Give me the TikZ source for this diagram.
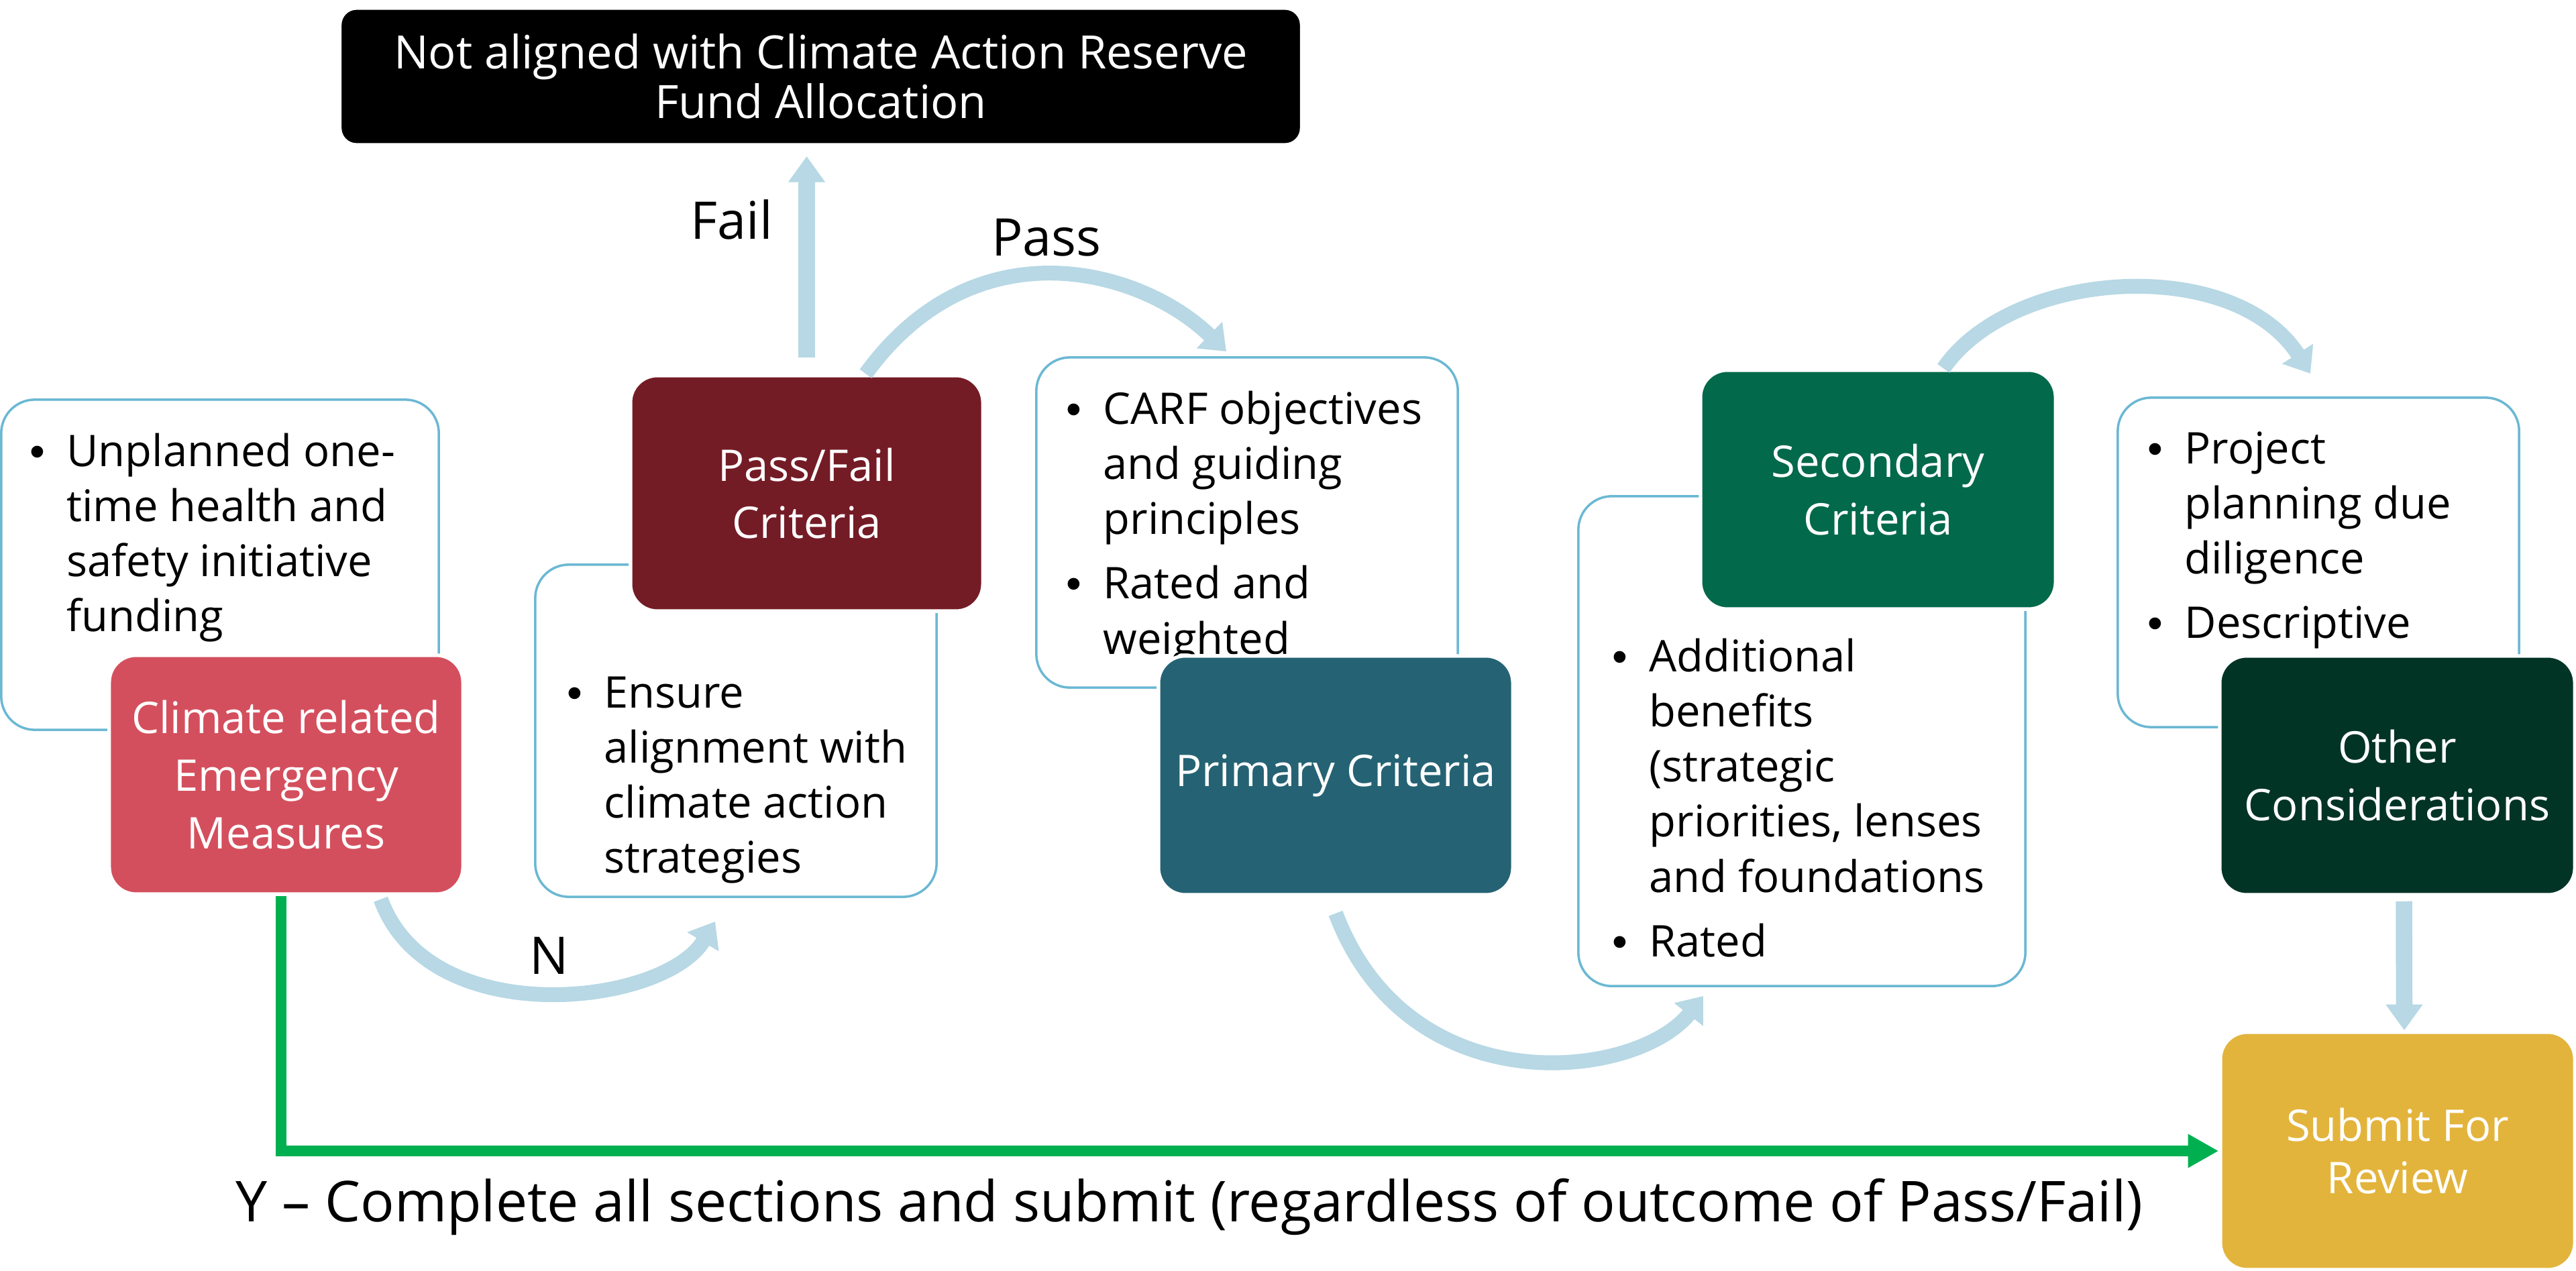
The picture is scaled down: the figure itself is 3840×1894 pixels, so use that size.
\documentclass[tikz,border=0pt]{standalone}
\usepackage{fontspec}
\setmainfont{Open Sans}
\newfontfamily\bulfont{Liberation Sans}
\usetikzlibrary{arrows.meta}
\definecolor{pfred}{HTML}{741C26}
\definecolor{climred}{HTML}{D44F5D}
\definecolor{primteal}{HTML}{256374}
\definecolor{secgreen}{HTML}{02694A}
\definecolor{othgreen}{HTML}{023426}
\definecolor{subgold}{HTML}{E3B43C}
\definecolor{boxblue}{HTML}{6BB8D3}
\definecolor{arrowblue}{HTML}{B7D8E4}
\definecolor{yesgreen}{HTML}{00B050}
\newcommand{\bitem}[1]{\par\noindent\hangindent=15.6pt\hangafter=1\makebox[15.6pt][l]{\bulfont •}#1}
\newcommand{\blist}[1]{\parbox[t]{9cm}{\fontsize{18.5}{23.4}\selectfont\setlength{\parskip}{4pt}#1}}
\begin{document}
\begin{tikzpicture}[x=0.01cm,y=-0.01cm,
  wbox/.style={draw=boxblue, line width=1pt, fill=white, rounded corners=0.5cm, inner sep=0pt},
  cbox/.style={draw=white, line width=1.5pt, rounded corners=0.4cm, text=white, align=center, inner sep=0pt,
     font=\fontsize{18.5}{24.4}\selectfont},
  btext/.style={anchor=base west, inner sep=0pt, align=left},
  lbl/.style={anchor=base, inner sep=0pt, font=\fontsize{22}{26}\selectfont},
  blarrow/.style={draw=arrowblue, line width=7pt, -{Triangle[length=11pt,width=15pt]}},
  arcarrow/.style={draw=arrowblue, line width=6.3pt, -{Triangle[length=10pt,width=15pt]}},
  gline/.style={draw=yesgreen, line width=4.3pt, -{Triangle[length=13pt,width=13.5pt]}}]
\useasboundingbox (0,0) rectangle (3840,1894);

% white description boxes
\node[wbox, minimum width=6.52cm, minimum height=4.92cm] (w1) at (328,842) {};
\node[btext] (t1) at (44,695) {\blist{\bitem{Unplanned one-\\time health and\\safety initiative\\funding}}};

\node[wbox, minimum width=5.98cm, minimum height=4.95cm] (w2) at (1097,1089.5) {};
\node[btext] (t2) at (845,1055) {\blist{\bitem{Ensure\\alignment with\\climate action\\strategies}}};

\node[wbox, minimum width=6.28cm, minimum height=4.92cm] (w3) at (1859,779) {};
\node[btext] (t3) at (1589,632) {\blist{\bitem{CARF objectives\\and guiding\\principles}\bitem{Rated and\\weighted}}};

\node[wbox, minimum width=6.66cm, minimum height=7.30cm] (w4) at (2686,1105) {};
\node[btext] (t4) at (2403,1001) {\blist{\bitem{Additional\\benefits\\(strategic\\priorities, lenses\\and foundations}\bitem{Rated}}};

\node[wbox, minimum width=5.98cm, minimum height=4.91cm] (w5) at (3456,838.5) {};
\node[btext] (t5) at (3201,691) {\blist{\bitem{Project\\planning due\\diligence}\bitem{Descriptive}}};

% coloured step boxes
\node[cbox, fill=black, rounded corners=0.25cm, minimum width=14.33cm, minimum height=2.04cm,
      font=\fontsize{19.5}{21}\selectfont] (na) at (1223.5,114)
      {Not aligned with Climate Action Reserve\\Fund Allocation};
\node[cbox, fill=climred, minimum width=5.27cm, minimum height=3.56cm] (clim) at (426.5,1155)
      {Climate related\\Emergency\\Measures};
\node[cbox, fill=pfred, minimum width=5.25cm, minimum height=3.51cm] (pf) at (1202.5,735.5)
      {Pass/Fail\\Criteria};
\node[cbox, fill=primteal, minimum width=5.28cm, minimum height=3.56cm] (prim) at (1991,1156)
      {Primary Criteria};
\node[cbox, fill=secgreen, minimum width=5.29cm, minimum height=3.56cm] (sec) at (2799.5,730)
      {Secondary\\Criteria};
\node[cbox, fill=othgreen, minimum width=5.29cm, minimum height=3.56cm] (oth) at (3573.5,1156)
      {Other\\Considerations};
\node[cbox, fill=subgold, minimum width=5.28cm, minimum height=3.54cm,
      font=\fontsize{18.5}{22}\selectfont] (subm) at (3574,1716)
      {Submit For\\Review};

% connectors
\coordinate (failtip) at (1202.5,233);
\draw[blarrow] ([yshift=0.24cm]pf.north) -- (failtip);

\coordinate (passtip) at (1828,524);
\draw[arcarrow] ([xshift=0.88cm]pf.north) .. controls (1453,333) and (1700,400) .. (passtip);

\coordinate (ntip) at (1066,1374);
\draw[arcarrow] ([xshift=1.41cm,yshift=-0.05cm]clim.south) .. controls (640,1540) and (990,1500) .. (ntip);

\coordinate (primtip) at (2539,1485);
\draw[arcarrow] ([yshift=-0.25cm]prim.south) .. controls (2100,1650) and (2440,1610) .. (primtip);

\coordinate (sectip) at (3444,557);
\draw[arcarrow] ([xshift=0.975cm]sec.north) .. controls (3000,400) and (3330,380) .. (sectip);

\draw[blarrow] ([xshift=0.1cm,yshift=-0.07cm]oth.south) -- ([xshift=0.1cm]subm.north);

\draw[gline] ([xshift=-0.075cm]clim.south) |- (subm.west);

% labels
\node[lbl] (lfail) at (1091,356) {Fail};
\node[lbl] (lpass) at (1560,381) {Pass};
\node[lbl] (ln) at (819,1452) {N};
\node[lbl, font=\fontsize{23.9}{28}\selectfont] (ly) at (1773,1821) {Y – Complete all sections and submit (regardless of outcome of Pass/Fail)};
\end{tikzpicture}
\end{document}
